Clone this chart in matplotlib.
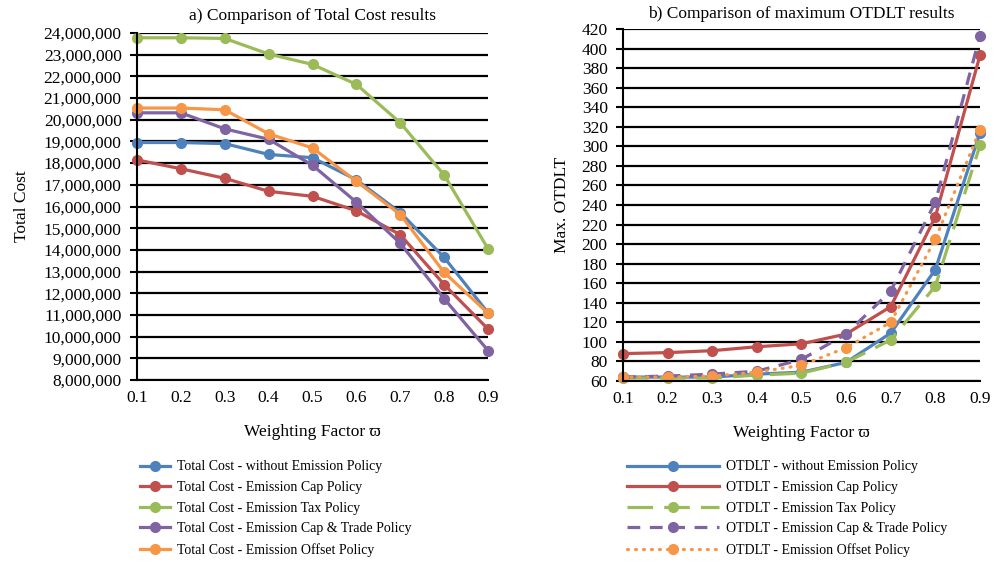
import matplotlib
matplotlib.use("Agg")
import matplotlib.pyplot as plt
from matplotlib.ticker import FuncFormatter

plt.rcParams['font.family'] = ['Liberation Serif', 'DejaVu Serif']

# -----------------------------
# Data
# -----------------------------
w = [0.1, 0.2, 0.3, 0.4, 0.5, 0.6, 0.7, 0.8, 0.9]

cost_none = [18.95e6, 18.95e6, 18.90e6, 18.40e6, 18.25e6, 17.23e6, 15.72e6, 13.65e6, 11.10e6]
cost_cap = [18.15e6, 17.74e6, 17.30e6, 16.70e6, 16.47e6, 15.80e6, 14.70e6, 12.40e6, 10.35e6]
cost_tax = [23.78e6, 23.78e6, 23.75e6, 23.03e6, 22.55e6, 21.63e6, 19.86e6, 17.45e6, 14.05e6]
cost_trade = [20.32e6, 20.32e6, 19.58e6, 19.10e6, 17.90e6, 16.20e6, 14.30e6, 11.75e6, 9.36e6]
cost_offset = [20.54e6, 20.54e6, 20.46e6, 19.35e6, 18.70e6, 17.16e6, 15.63e6, 12.96e6, 11.08e6]

ot_none = [64, 64, 64, 67, 69, 79, 109, 174, 314]
ot_cap = [88, 89, 91, 95, 98, 108, 136, 228, 393]
ot_tax = [63, 63, 63, 66, 68, 79, 102, 157, 301]
ot_trade = [64, 65, 67, 70, 82, 108, 152, 243, 413]
ot_offset = [64, 64, 65, 69, 76, 94, 120, 205, 317]

names = ["without Emission Policy", "Emission Cap Policy", "Emission Tax Policy",
         "Emission Cap & Trade Policy", "Emission Offset Policy"]
colors = ["#4F81BD", "#C0504D", "#9BBB59", "#8064A2", "#F79646"]

FS = 12.5

# -----------------------------
# Figure and axes
# -----------------------------
fig = plt.figure(figsize=(9.95, 5.65), dpi=100)
ax1 = fig.add_axes([0.1377, 0.3274, 0.3528, 0.6142])
ax2 = fig.add_axes([0.6261, 0.3257, 0.3588, 0.6230])

def style_axes(ax):
    for s in ["top", "right"]:
        ax.spines[s].set_visible(False)
    ax.spines["left"].set_linewidth(1.5)
    ax.spines["bottom"].set_linewidth(1.5)
    ax.grid(axis="y", color="black", linewidth=1.6)
    ax.set_axisbelow(True)
    ax.tick_params(axis="y", length=5, width=1.5, labelsize=FS, pad=6)
    ax.tick_params(axis="x", length=0, labelsize=FS, pad=7)
    ax.set_xlim(0.1, 0.9)
    ax.set_xticks(w)
    ax.set_xticklabels([f"{v:.1f}" for v in w])
    ax.set_xlabel("Weighting Factor ϖ", fontsize=FS, labelpad=13)

# -----------------------------
# a) Total cost
# -----------------------------
cost_series = [cost_none, cost_cap, cost_tax, cost_trade, cost_offset]
for vals, name, c in zip(cost_series, names, colors):
    ax1.plot(w, vals, color=c, linewidth=2.3, marker="o", markersize=7,
             label="Total Cost - " + name, clip_on=False)
style_axes(ax1)
ax1.set_ylim(8e6, 24e6)
ax1.set_yticks(range(8_000_000, 24_000_001, 1_000_000))
ax1.yaxis.set_major_formatter(FuncFormatter(lambda v, p: f"{int(v):,}"))
ax1.set_ylabel("Total Cost", fontsize=FS, labelpad=10)
ax1.set_title("a) Comparison of Total Cost results", fontsize=FS, pad=9)

# -----------------------------
# b) Max OTDLT
# -----------------------------
ot_series = [ot_none, ot_cap, ot_tax, ot_trade, ot_offset]
dashes = [None, None, (8, 3.5), (4, 3), (0.3, 2.2)]
for vals, name, c, d in zip(ot_series, names, colors, dashes):
    line, = ax2.plot(w, vals, color=c, linewidth=2.3, marker="o", markersize=7,
                     label="OTDLT - " + name, clip_on=False)
    if d is not None:
        line.set_dashes(d)
        if d[0] < 1:
            line.set_dash_capstyle("round")
style_axes(ax2)
ax2.set_ylim(60, 420)
ax2.set_yticks(range(60, 421, 20))
ax2.set_ylabel("Max. OTDLT", fontsize=FS, labelpad=8)
ax2.set_title("b) Comparison of maximum OTDLT results", fontsize=FS, pad=8)

# -----------------------------
# Legends below each chart
# -----------------------------
fig.legend(*ax1.get_legend_handles_labels(), loc="upper left",
           bbox_to_anchor=(0.135, 0.195), frameon=False, fontsize=10,
           handlelength=2.2, handletextpad=0.5, labelspacing=0.55,
           borderaxespad=0)
fig.legend(*ax2.get_legend_handles_labels(), loc="upper left",
           bbox_to_anchor=(0.625, 0.195), frameon=False, fontsize=10,
           handlelength=6.6, handletextpad=0.5, labelspacing=0.55,
           borderaxespad=0)

fig.savefig("out.png", dpi=100)
